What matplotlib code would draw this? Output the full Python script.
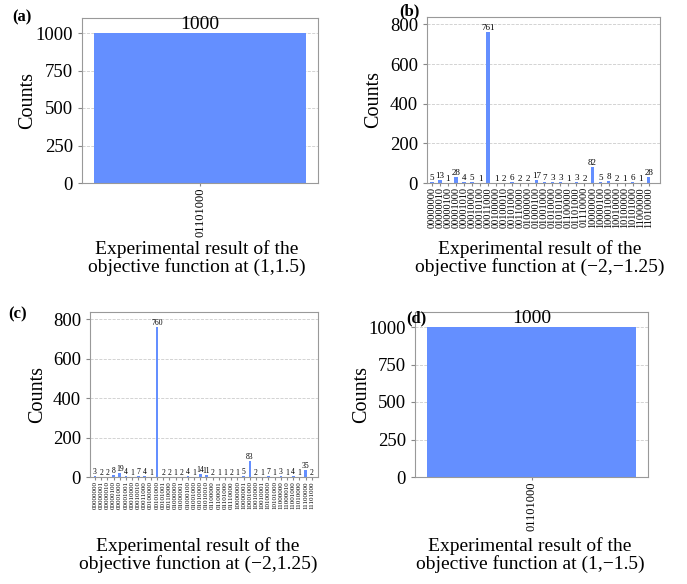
import matplotlib
matplotlib.use('Agg')
import matplotlib.pyplot as plt

plt.rcParams['font.family'] = ['Liberation Serif', 'DejaVu Serif']

# 计数数据
a_labels = ['01101000']
a_counts = [1000]

b_labels = ['00000000', '00000010', '00000100', '00001000', '00001010', '00010000',
            '00010100', '00011000', '00100000', '00100010', '00101000', '00110000',
            '01000000', '01000100', '01001000', '01010000', '01010100', '01100000',
            '01101000', '01110000', '10000000', '10000100', '10001000', '10010000',
            '10100000', '10101000', '11000000', '11010000']
b_counts = [5, 13, 1, 28, 4, 5, 1, 761, 1, 2, 6, 2, 2, 17, 7, 3, 3, 1, 3, 2,
            82, 5, 8, 2, 1, 6, 1, 28]

c_labels = ['00000000', '00000001', '00000010', '00000100', '00001000', '00001001',
            '00010000', '00010010', '00011000', '00100000', '00101000', '00101001',
            '00110000', '01000000', '01000001', '01000100', '01001000', '01010000',
            '01010010', '01100000', '01100001', '01101000', '01110000', '10000000',
            '10000001', '10001000', '10010000', '10010001', '10100000', '10101000',
            '11000000', '11000010', '11001000', '11010000', '11100000', '11101000']
c_counts = [3, 2, 2, 8, 19, 4, 1, 7, 4, 1, 760, 2, 2, 1, 2, 4, 1, 14, 11, 2, 1, 1,
            2, 1, 5, 83, 2, 1, 7, 1, 3, 1, 4, 1, 35, 2]

d_labels = ['01101000']
d_counts = [1000]

titles = ['Experimental result of the\nobjective function at (1,1.5)',
          'Experimental result of the\nobjective function at (\u22122,\u22121.25)',
          'Experimental result of the\nobjective function at (\u22122,1.25)',
          'Experimental result of the\nobjective function at (1,\u22121.5)']

W, H = 687, 584
fig = plt.figure(figsize=(W / 100, H / 100), dpi=100)

def make_ax(x0, y0, x1, y1):
    return fig.add_axes([x0 / W, 1 - y1 / H, (x1 - x0) / W, (y1 - y0) / H])

def histo(ax, labels, counts, width, yticks, lab_fs, xt_fs, xlim):
    x = list(range(len(labels)))
    bars = ax.bar(x, counts, width=width, color='#648fff', zorder=2)
    ax.bar_label(bars, labels=[str(c) for c in counts], fontsize=lab_fs, padding=0)
    ax.set_ylim(0, max(counts) * 1.1)
    ax.set_xlim(*xlim)
    ax.set_yticks(yticks)
    ax.tick_params(axis='y', labelsize=13.5, length=3, colors='#888888', labelcolor='black')
    ax.set_xticks(x)
    ax.set_xticklabels(labels, rotation=90, fontsize=xt_fs)
    ax.tick_params(axis='x', length=2, pad=1, colors='#888888', labelcolor='black')
    ax.grid(axis='y', linestyle='--', color='#cccccc', linewidth=0.6, zorder=0)
    for s in ax.spines.values():
        s.set_color('#999999')
    ax.set_ylabel('Counts', fontsize=14.5)
    ax.yaxis.set_label_coords(-0.19, 0.5)

ax_a = make_ax(82, 18, 318, 183)
histo(ax_a, a_labels, a_counts, 0.9, [0, 250, 500, 750, 1000], 14, 9, (-0.5, 0.5))
ax_b = make_ax(427, 17, 660, 183)
histo(ax_b, b_labels, b_counts, 0.42, [0, 200, 400, 600, 800], 6.5, 7.5, (-0.6, 28.4))
ax_c = make_ax(90, 312, 318, 477)
histo(ax_c, c_labels, c_counts, 0.42, [0, 200, 400, 600, 800], 5.5, 5.0, (-0.8, 36.0))
ax_d = make_ax(415, 312, 648, 477)
histo(ax_d, d_labels, d_counts, 0.9, [0, 250, 500, 750, 1000], 14, 9, (-0.5, 0.5))

fig.text(12 / W, 1 - 17 / H, '(a)', fontsize=12, fontweight='bold', va='center')
fig.text(399 / W, 1 - 11 / H, '(b)', fontsize=12, fontweight='bold', va='center')
fig.text(8 / W, 1 - 314 / H, '(c)', fontsize=12, fontweight='bold', va='center')
fig.text(406 / W, 1 - 318 / H, '(d)', fontsize=12, fontweight='bold', va='center')

fig.text(197 / W, 1 - 258 / H, titles[0], fontsize=14, ha='center', va='center', linespacing=1.05)
fig.text(540 / W, 1 - 258 / H, titles[1], fontsize=14, ha='center', va='center', linespacing=1.05)
fig.text(198 / W, 1 - 555 / H, titles[2], fontsize=14, ha='center', va='center', linespacing=1.05)
fig.text(530 / W, 1 - 555 / H, titles[3], fontsize=14, ha='center', va='center', linespacing=1.05)

fig.savefig('out.png', dpi=100)
